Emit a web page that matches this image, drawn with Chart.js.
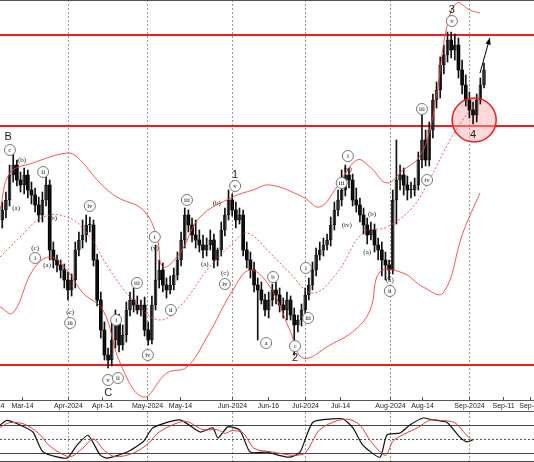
<!DOCTYPE html>
<html><head><meta charset="utf-8">
<script src="https://cdn.jsdelivr.net/npm/chart.js@4"></script>
<style>body{margin:0;background:#fff;width:534px;height:462px;overflow:hidden;position:relative}canvas{position:absolute;left:0}</style>
</head><body>
<canvas id="main" width="534" height="412" style="top:0"></canvas>
<canvas id="osc" width="534" height="50" style="top:412px"></canvas>
<script>
// bar index 0 = 1 Mar 2024 (weekday count); first candle at index 3
const firstBar = 3;
const opens = [180,190,200,225,235,220,215,225,210,205,195,185,200,215,150,140,135,130,120,110,120,150,160,165,175,175,140,100,70,45,40,60,80,55,65,90,100,95,90,95,70,60,95,120,130,115,110,115,125,140,160,185,175,165,160,155,150,155,160,140,150,170,185,200,190,180,185,150,140,130,115,110,100,90,100,110,105,95,90,100,85,75,80,90,105,115,130,145,150,155,160,175,190,200,210,225,220,200,195,185,175,165,170,155,150,140,135,130,200,220,225,215,210,210,215,240,260,240,270,300,310,335,345,360,350,355,330,315,300,290,285,300,315];
const highs = [198,208,235,250,240,228,232,230,218,212,203,208,228,220,158,145,140,136,128,126,158,168,180,185,183,180,146,108,78,52,80,90,86,75,98,108,112,104,100,103,78,104,155,140,137,122,124,132,148,168,192,190,182,180,170,165,162,170,166,152,178,192,210,206,198,192,190,158,148,138,122,118,106,108,116,118,112,102,108,104,92,85,96,112,122,138,152,158,162,166,183,198,210,230,235,232,226,212,202,192,182,178,176,162,158,148,140,210,260,235,232,224,218,222,248,285,270,278,306,318,343,355,368,368,366,362,340,325,308,298,306,322,337];
const lows = [172,182,194,218,214,208,206,202,196,188,178,178,194,140,132,128,122,112,100,104,112,144,152,158,168,134,94,62,40,32,34,52,48,50,58,84,88,86,84,64,55,56,90,112,108,102,106,110,120,134,152,168,158,152,148,142,144,150,132,134,144,164,180,184,172,176,144,132,122,108,60,96,84,82,94,96,88,82,80,80,45,68,74,84,100,110,124,140,144,150,154,170,184,194,204,212,194,188,178,166,156,160,148,140,124,120,120,126,176,210,205,200,202,204,210,232,234,234,262,292,302,326,338,342,340,322,306,294,282,276,278,296,312];
const closes = [190,200,225,235,220,215,225,210,205,195,185,200,215,150,140,135,130,120,110,120,150,160,165,175,175,140,100,70,45,40,60,80,55,65,90,100,95,90,95,70,60,95,120,130,115,110,115,125,140,160,185,175,165,160,155,150,155,160,140,150,170,185,200,190,180,185,150,140,130,115,110,100,90,100,110,105,95,90,100,85,75,80,90,105,115,130,145,150,155,160,175,190,200,210,225,220,200,195,185,175,165,170,155,150,140,135,130,200,220,225,215,210,210,215,240,260,240,270,300,310,335,345,360,350,355,330,315,300,290,285,300,315,330];

const upperX = [2.4,5.1,11.4,20.7,23.5,29.8,34.4,41.6,45.4,47,51.7,57.2,66.2,71.7,76.4,85.4,90,94.7,100.2,103.8,108.4,112.8,116.6,119.4,122.1,124.8,127.6,131.1,133.9];
const upperY = [190,227,237,247,243,217,203,190,163,133,147,183,203,210,215,203,193,213,240,233,217,230,240,260,307,373,397,390,387];
const midX = [2.4,7.9,14.2,20.7,26.2,32.5,38.8,46.2,52.5,59.1,66.2,70.1,76.4,81.8,88.1,94.7,101.8,108.4,115.5,120,125.7,129.2,132.5];
const midY = [143,163,183,183,167,130,100,80,97,130,157,167,147,127,107,127,167,173,193,220,260,280,295];
const lowerX = [2.4,5.9,11.4,16.1,20.7,25.1,30.6,35.3,41.6,48.1,53.6,59.1,66.2,70.9,76.4,81.8,85.4,92.8,99.6,103.8,106.5,112.8,118.3,123.8,129.2,133.9];
const lowerY = [93,87,130,143,130,107,90,37,3,27,33,63,110,130,113,70,42,55,70,90,128,127,113,107,167,207];

const kX = [2.4,4.3,7.9,11.4,14.2,20.7,23.5,26.5,29.8,31.7,37.2,41.6,44.3,51.7,57.2,60.7,62.1,64.8,68.1,70.9,75.5,78.3,81.8,84.6,88.1,93.6,96.4,99.1,101.8,106.5,108.4,112,114.7,118.3,121,124.8,128.4,130.3,132];
const kY = [80,90,80,65,22,9,37,58,16,9,22,44,74,91,65,74,52,76,69,22,22,16,11,22,86,93,93,74,37,11,59,63,80,95,91,86,54,44,48];
const dX = [2.4,5,9,13,16,21.5,25,28,31,34,39,43,46,53,58,62,64,66,69,72,77,80,83,86,90,95,98,101,104,108,110,113,117,120,123,127,130,132];
const dY = [75,85,82,62,35,12,30,50,25,12,20,40,65,88,70,70,62,68,63,30,22,18,15,20,70,90,92,80,45,15,45,60,75,90,90,85,60,46];

const tickIdx = [-0.5,8.4,21,30.3,42.7,51.7,65.9,75.8,85.9,95.5,109.2,118,131,140.2,147.5];
const tickText = ['Mar-2024','Mar-14','Apr-2024','Apr-14','May-2024','May-14','Jun-2024','Jun-16','Jul-2024','Jul-14','Aug-2024','Aug-14','Sep-2024','Sep-11','Sep-18'];
const monthIdx = [21,42.7,65.9,85.9,109.2,131];
const levels = [365,274,35];

const waveIdx = [4.6,5.1,8.4,14.2,6.8,12,12,16.9,15.3,21.6,21.6,27,32,32,34.2,34.7,39.9,42.9,44.8,44.8,49.2,53.6,61.8,58.5,64,64,66.8,66.8,75.3,83.2,83.2,77.2,86.2,86.8,97.7,97.7,96,97.4,104.3,103,109.2,109.2,119.4,118,126.2,126.2,132];
const wavePrice = [263,250,240,228,192,152,142,182,135,88,77,194,20,7,80,22,117,45,163,152,90,200,197,136,127,116,225,214,57,54,42,123,132,82,244,231,217,175,186,148,120,109,220,291,379,390,265];
const waveText = ['B','c','(b)','ii','(a)','(c)','i','(b)','(a)','(c)','iii','iv','v','C','i','ii','iii','iv','i','(v)','ii','iii','(b)','(a)','(c)','iv','1','v','a','c','2','b','i','iii','i','(v)','iii','(iv)','(b)','(a)','(c)','ii','iv','iii','v','3','4'];
const waveCircled = [0,1,0,1,0,0,1,0,0,0,1,1,1,0,1,1,1,1,1,0,1,1,0,0,0,1,0,1,1,1,0,1,1,1,1,0,1,0,0,0,0,1,1,1,1,0,0];
const waveBig = ['B','C','1','2','3','4'];
const focusCircle = {x:132.3, y:280};
const arrowFrom = {x:133.9, y:327}, arrowTo = {x:136.6, y:362};

const barIdx = opens.map((_, i) => firstBar + i);
const up = opens.map((o, i) => closes[i] >= o);
const RED = 'rgb(240,30,30)';
const BAND = 'rgba(240,60,60,0.85)';
const xScale = {type:'linear', min:2.38, max:148.7, display:false, offset:false};

function pts(xs, ys){ return xs.map((x,i)=>({x, y:ys[i]})); }

const deco = {
  id:'deco',
  beforeDatasetsDraw(c){
    const ctx=c.ctx, xs=c.scales.x, ys=c.scales.y, a=c.chartArea;
    ctx.save();
    ctx.strokeStyle='#999'; ctx.lineWidth=1; ctx.setLineDash([2,2]);
    monthIdx.forEach(m=>{const px=Math.round(xs.getPixelForValue(m))+0.5;ctx.beginPath();ctx.moveTo(px,a.top);ctx.lineTo(px,a.bottom);ctx.stroke();});
    ctx.setLineDash([]);
    ctx.strokeStyle=RED; ctx.lineWidth=2;
    levels.forEach(l=>{const py=ys.getPixelForValue(l);ctx.beginPath();ctx.moveTo(a.left,py);ctx.lineTo(a.right,py);ctx.stroke();});
    const cx=xs.getPixelForValue(focusCircle.x), cy=ys.getPixelForValue(focusCircle.y);
    ctx.fillStyle='rgba(255,170,170,0.45)'; ctx.beginPath(); ctx.arc(cx,cy,22,0,Math.PI*2); ctx.fill();
    ctx.restore();
  },
  afterDatasetsDraw(c){
    const ctx=c.ctx, xs=c.scales.x, ys=c.scales.y, a=c.chartArea;
    ctx.save();
    const cx=xs.getPixelForValue(focusCircle.x), cy=ys.getPixelForValue(focusCircle.y);
    ctx.strokeStyle=RED; ctx.lineWidth=1.5; ctx.beginPath(); ctx.arc(cx,cy,22,0,Math.PI*2); ctx.stroke();
    const x1=xs.getPixelForValue(arrowFrom.x), y1=ys.getPixelForValue(arrowFrom.y), x2=xs.getPixelForValue(arrowTo.x), y2=ys.getPixelForValue(arrowTo.y);
    ctx.strokeStyle='#000'; ctx.fillStyle='#000'; ctx.lineWidth=1;
    ctx.beginPath(); ctx.moveTo(x1,y1); ctx.lineTo(x2,y2); ctx.stroke();
    const ang=Math.atan2(y2-y1,x2-x1);
    ctx.beginPath(); ctx.moveTo(x2,y2); ctx.lineTo(x2-7*Math.cos(ang-0.4),y2-7*Math.sin(ang-0.4)); ctx.lineTo(x2-7*Math.cos(ang+0.4),y2-7*Math.sin(ang+0.4)); ctx.closePath(); ctx.fill();
    ctx.textAlign='center'; ctx.textBaseline='middle';
    waveText.forEach((t,i)=>{
      const px=xs.getPixelForValue(waveIdx[i]), py=ys.getPixelForValue(wavePrice[i]);
      if(waveBig.includes(t)){ctx.font='11px "Liberation Sans"';ctx.fillStyle='#222';ctx.fillText(t,px,py);return;}
      if(waveCircled[i]){ctx.fillStyle='#fff';ctx.strokeStyle='#777';ctx.lineWidth=1;ctx.beginPath();ctx.arc(px,py,5.5,0,Math.PI*2);ctx.fill();ctx.stroke();}
      ctx.font='7px "Liberation Serif"'; ctx.fillStyle='#222'; ctx.fillText(t,px,py+0.5);
    });
    ctx.restore();
  },
  afterDraw(c){
    const ctx=c.ctx, xs=c.scales.x, a=c.chartArea;
    ctx.save();
    ctx.strokeStyle='#555'; ctx.lineWidth=1;
    ctx.beginPath(); ctx.moveTo(0,0.5); ctx.lineTo(534,0.5); ctx.stroke();
    ctx.beginPath(); ctx.moveTo(0,a.bottom+0.5); ctx.lineTo(534,a.bottom+0.5); ctx.stroke();
    ctx.beginPath(); ctx.moveTo(0,411.5); ctx.lineTo(534,411.5); ctx.stroke();
    ctx.font='7px "Liberation Sans"'; ctx.fillStyle='#222'; ctx.textAlign='center'; ctx.textBaseline='middle';
    tickIdx.forEach((t,i)=>{const px=Math.round(xs.getPixelForValue(t))+0.5;ctx.beginPath();ctx.moveTo(px,a.bottom-3);ctx.lineTo(px,a.bottom+1);ctx.stroke();ctx.fillText(tickText[i],px,406);});
    ctx.restore();
  }
};

new Chart(document.getElementById('main'),{
  data:{datasets:[
    {type:'line',data:pts(upperX,upperY),borderColor:BAND,borderWidth:1,pointRadius:0,tension:0.4},
    {type:'line',data:pts(midX,midY),borderColor:BAND,borderWidth:1,borderDash:[2,2],pointRadius:0,tension:0.4},
    {type:'line',data:pts(lowerX,lowerY),borderColor:BAND,borderWidth:1,pointRadius:0,tension:0.4},
    {type:'bar',grouped:false,data:barIdx.map((x,i)=>({x,y:[lows[i],highs[i]]})),backgroundColor:'#111',barThickness:1},
    {type:'bar',grouped:false,data:barIdx.map((x,i)=>({x,y:[Math.min(opens[i],closes[i]),Math.max(opens[i],closes[i])]})),
      backgroundColor:barIdx.map((_,i)=>up[i]?'#d8d8d8':'#000'),borderColor:'#222',borderWidth:barIdx.map((_,i)=>up[i]?1:0),borderSkipped:false,barThickness:3,minBarLength:1}
  ]},
  options:{responsive:false,animation:false,devicePixelRatio:1,layout:{padding:{top:0,bottom:12,left:0,right:0}},
    scales:{x:xScale,y:{min:0,max:400,display:false}},
    plugins:{legend:{display:false},tooltip:{enabled:false}}},
  plugins:[deco]
});

const oscDeco={id:'oscDeco',beforeDatasetsDraw(c){
  const ctx=c.ctx,xs=c.scales.x,ys=c.scales.y,a=c.chartArea;
  ctx.save();ctx.lineWidth=1;
  ctx.strokeStyle='#999';ctx.setLineDash([2,2]);
  monthIdx.forEach(m=>{const px=Math.round(xs.getPixelForValue(m))+0.5;ctx.beginPath();ctx.moveTo(px,0);ctx.lineTo(px,50);ctx.stroke();});
  const p50=Math.round(ys.getPixelForValue(50))+0.5;ctx.strokeStyle='#555';ctx.beginPath();ctx.moveTo(0,p50);ctx.lineTo(534,p50);ctx.stroke();
  ctx.setLineDash([]);ctx.strokeStyle='#444';
  [80,20].forEach(v=>{const p=Math.round(ys.getPixelForValue(v))+0.5;ctx.beginPath();ctx.moveTo(0,p);ctx.lineTo(534,p);ctx.stroke();});
  ctx.beginPath();ctx.moveTo(0,49.5);ctx.lineTo(534,49.5);ctx.stroke();
  ctx.restore();}};

new Chart(document.getElementById('osc'),{
  type:'line',
  data:{datasets:[
    {data:pts(dX,dY),borderColor:'rgb(220,60,60)',borderWidth:1,pointRadius:0,tension:0.3},
    {data:pts(kX,kY),borderColor:'#111',borderWidth:1.2,pointRadius:0,tension:0.2}
  ]},
  options:{responsive:false,animation:false,devicePixelRatio:1,layout:{padding:0},
    scales:{x:xScale,y:{min:0.7,max:107.9,display:false}},
    plugins:{legend:{display:false},tooltip:{enabled:false}}},
  plugins:[oscDeco]
});
</script>
</body></html>
